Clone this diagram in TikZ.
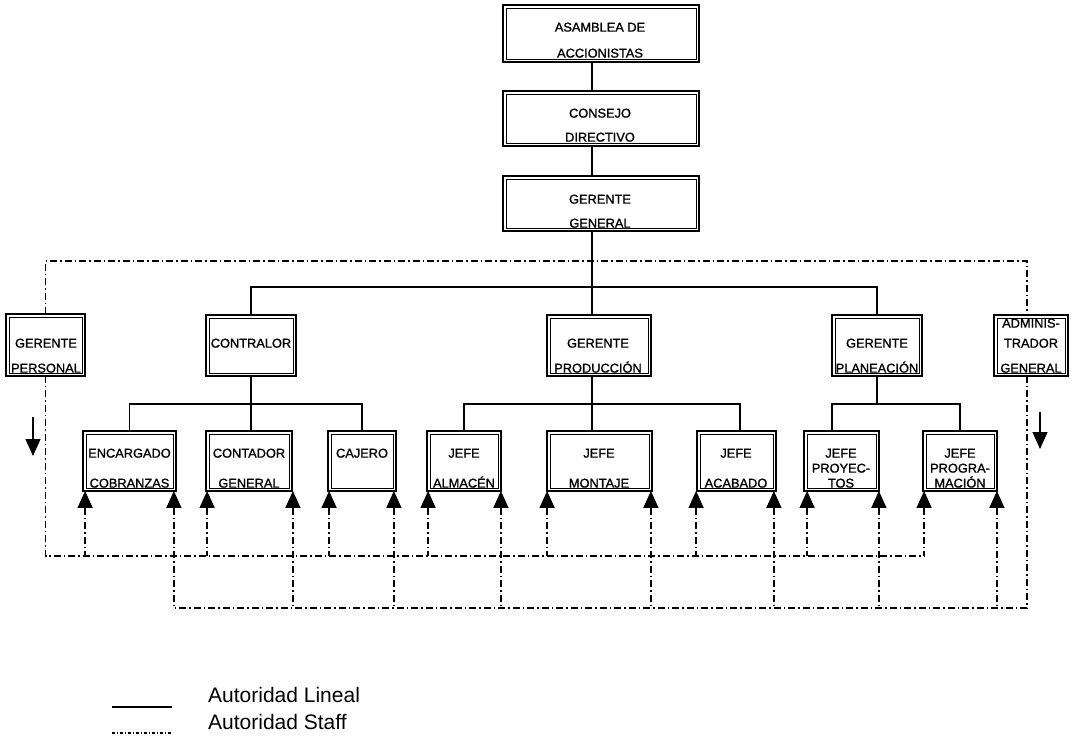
\documentclass[tikz,border=0pt]{standalone}
\usepackage{fontspec}
\setmainfont{Liberation Sans}
\newfontfamily\boxfont[FakeBold=1.2]{Liberation Sans}
\usetikzlibrary{arrows.meta}
\newcommand\obox[5]{\node[box, minimum width={#4-#2-2.2}, minimum height={#5-#3-2.2}] (#1) at ({(#2+#4)/2},{(#3+#5)/2}) {};}
\newcommand\otxt[4]{\node[txt] (#1) at (#2,#3) {#4};}
\begin{document}
\begin{tikzpicture}[x=1pt,y=-1pt,
  box/.style={draw, line width=2.4pt, inner sep=0pt, outer sep=0pt,
    path picture={\draw[line width=0.8pt] ([shift={(3pt,-3pt)}]path picture bounding box.north west) rectangle ([shift={(-3pt,3pt)}]path picture bounding box.south east);}},
  txt/.style={font=\boxfont\fontsize{12.8}{14}\selectfont, inner sep=0pt, text height=9.2pt, text depth=0pt, anchor=center},
  leg/.style={font=\fontsize{21}{24}\selectfont, inner sep=0pt, anchor=west},
  lin/.style={line width=1.3pt},
  staff/.style={line width=1.3pt, dash pattern=on 7pt off 3pt on 1.5pt off 3pt},
  uptip/.style={{Triangle[width=15pt,length=17pt]}-},
  downtip/.style={-{Triangle[width=15pt,length=17pt]}}]
\fill[white] (0,0) rectangle (1081,737);
\useasboundingbox (0,0) rectangle (1081,737);

% boxes
\obox{asam}{502}{4}{700}{63}
\obox{cons}{502}{90}{700}{147}
\obox{ger}{502}{175}{700}{232}
\obox{pers}{5}{313}{86}{377}
\obox{contr}{205}{314}{297}{377}
\obox{prod}{546}{314}{652}{377}
\obox{plan}{831}{314}{923}{377}
\obox{admin}{993}{314}{1069}{377}
\obox{encar}{82}{430}{177}{492}
\obox{contad}{205}{430}{293}{492}
\obox{caj}{327}{430}{397}{492}
\obox{alm}{426}{430}{502}{492}
\obox{mont}{546}{430}{653}{492}
\obox{acab}{696}{430}{777}{492}
\obox{proy}{803}{430}{880}{492}
\obox{prog}{922}{430}{998}{492}

% texts
\otxt{ta1}{600}{27}{ASAMBLEA DE}
\otxt{ta2}{600}{53}{ACCIONISTAS}
\otxt{tb1}{600}{113}{CONSEJO}
\otxt{tb2}{600}{137}{DIRECTIVO}
\otxt{tc1}{600}{199}{GERENTE}
\otxt{tc2}{600}{223}{GENERAL}
\otxt{td1}{46}{343}{GERENTE}
\otxt{td2}{46}{368}{PERSONAL}
\otxt{te1}{251}{343}{CONTRALOR}
\otxt{tf1}{598}{343}{GERENTE}
\otxt{tf2}{598}{368}{PRODUCCIÓN}
\otxt{tg1}{877}{343}{GERENTE}
\otxt{tg2}{877}{368}{PLANEACIÓN}
\otxt{th1}{1031}{323}{ADMINIS-}
\otxt{th2}{1031}{343}{TRADOR}
\otxt{th3}{1031}{368}{GENERAL}
\otxt{ti1}{129.5}{453}{ENCARGADO}
\otxt{ti2}{129.5}{483}{COBRANZAS}
\otxt{tj1}{249}{453}{CONTADOR}
\otxt{tj2}{249}{483}{GENERAL}
\otxt{tk1}{362}{453}{CAJERO}
\otxt{tl1}{464}{453}{JEFE}
\otxt{tl2}{464}{483}{ALMACÉN}
\otxt{tm1}{599}{453}{JEFE}
\otxt{tm2}{599}{483}{MONTAJE}
\otxt{tn1}{736}{453}{JEFE}
\otxt{tn2}{736}{483}{ACABADO}
\otxt{to1}{841}{453}{JEFE}
\otxt{to2}{841}{468}{PROYEC-}
\otxt{to3}{841}{483}{TOS}
\otxt{tp1}{960}{453}{JEFE}
\otxt{tp2}{960}{468}{PROGRA-}
\otxt{tp3}{960}{483}{MACIÓN}

% helper coordinates
\coordinate (tx) at (592,0);
\coordinate (h1) at (0,287);
\coordinate (h2) at (0,404);
\coordinate (acabc) at (740,0);
\coordinate (proyc) at (832,0);
\coordinate (sy1) at (0,261);
\coordinate (sy2) at (0,556);
\coordinate (sy3) at (0,608);
\coordinate (rx) at (1027,0);

% line authority
\draw[lin] (asam.south -| tx) -- (cons.north -| tx);
\draw[lin] (cons.south -| tx) -- (ger.north -| tx);
\draw[lin] (ger.south -| tx) -- (prod.north -| tx);
\draw[lin] (contr.north) |- (h1 -| plan.north) -- (plan.north);
\draw[lin] (contr.south) -- (contr.south |- contad.north);
\draw[lin] (encar.north) |- (h2 -| caj.north) -- (caj.north);
\draw[lin] (prod.south -| tx) -- (mont.north -| tx);
\draw[lin] (alm.north) |- (h2 -| acabc) -- (acabc |- acab.north);
\draw[lin] (plan.south) -- (plan.south |- h2);
\draw[lin] (proyc |- proy.north) |- (h2 -| prog.north) -- (prog.north);

% staff authority
\coordinate (eL) at ([xshift=2pt]encar.south west);
\coordinate (eR) at ([xshift=-2pt]encar.south east);
\coordinate (cL) at ([xshift=1pt]contad.south west);
\coordinate (cR) at ([xshift=1pt]contad.south east);
\coordinate (kL) at ([xshift=1pt]caj.south west);
\coordinate (kR) at ([xshift=-2pt]caj.south east);
\coordinate (aL) at ([xshift=1pt]alm.south west);
\coordinate (aR) at ([xshift=0pt]alm.south east);
\coordinate (mL) at ([xshift=0pt]mont.south west);
\coordinate (mR) at ([xshift=-1pt]mont.south east);
\coordinate (bL) at ([xshift=-1pt]acab.south west);
\coordinate (bR) at ([xshift=-2pt]acab.south east);
\coordinate (pL) at ([xshift=3pt]proy.south west);
\coordinate (pR) at ([xshift=0pt]proy.south east);
\coordinate (gL) at ([xshift=1pt]prog.south west);
\coordinate (gR) at ([xshift=0pt]prog.south east);

\draw[staff] (pers.north) |- (sy1 -| rx) -- (rx |- admin.north);
\draw[staff] (pers.south) |- (sy2 -| gL);
\draw[staff] (rx |- admin.south) |- (sy3 -| eR);
\foreach \c in {eL,cL,kL,aL,mL,bL,pL,gL}
  \draw[staff,uptip] (\c) -- (\c |- sy2);
\foreach \c in {eR,cR,kR,aR,mR,bR,pR,gR}
  \draw[staff,uptip] (\c) -- (\c |- sy3);

% free arrows
\coordinate (dl1) at (33,417);
\coordinate (dl2) at (33,456);
\coordinate (dr1) at (1040,412);
\coordinate (dr2) at (1040,449);
\draw[lin,downtip] (dl1) -- (dl2);
\draw[lin,downtip] (dr1) -- (dr2);

% legend
\coordinate (lg1) at (112,707);
\coordinate (lg2) at (172,707);
\coordinate (lg3) at (112,733);
\coordinate (lg4) at (172,733);
\draw[lin] (lg1) -- (lg2);
\draw[staff, dash pattern=on 3pt off 2pt on 1pt off 2pt] (lg3) -- (lg4);
\node[leg] (l1) at (208,695) {Autoridad Lineal};
\node[leg] (l2) at (208,722) {Autoridad Staff};
\end{tikzpicture}
\end{document}
